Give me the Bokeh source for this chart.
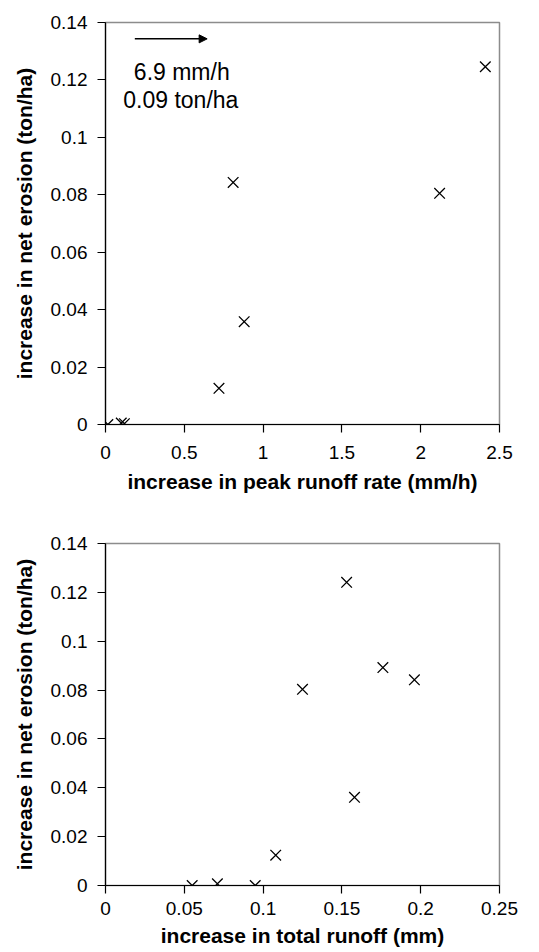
from bokeh.plotting import figure
from bokeh.layouts import column
from bokeh.models import FixedTicker, Arrow, NormalHead, Label, Range1d
from bokeh.embed import file_html
from bokeh.resources import INLINE

# ---- data ----
peak_rate = [0.015, 0.10, 0.12, 0.72, 0.81, 0.88, 2.12, 2.41]
erosion_peak = [0.0, 0.0005, 0.0003, 0.0126, 0.0843, 0.0358, 0.0805, 0.1246]
offchart_rate = 6.9
offchart_erosion = 0.09

total_runoff = [0.055, 0.071, 0.095, 0.108, 0.125, 0.153, 0.158, 0.176, 0.196]
erosion_total = [0.0, 0.0007, 0.0, 0.0124, 0.0803, 0.1241, 0.0361, 0.0892, 0.0842]

x1_ticks = [0, 0.5, 1, 1.5, 2, 2.5]
x1_labels = ["0", "0.5", "1", "1.5", "2", "2.5"]
x2_ticks = [0, 0.05, 0.1, 0.15, 0.2, 0.25]
x2_labels = ["0", "0.05", "0.1", "0.15", "0.2", "0.25"]
y_ticks = [0, 0.02, 0.04, 0.06, 0.08, 0.1, 0.12, 0.14]
y_labels = ["0", "0.02", "0.04", "0.06", "0.08", "0.1", "0.12", "0.14"]

FONT = "Liberation Sans"


def style(p, xt, xl, tick_standoff, label_standoff):
    p.xgrid.visible = False
    p.ygrid.visible = False
    p.outline_line_color = "#8c8c8c"
    p.outline_line_width = 1.5
    p.background_fill_color = "white"
    p.border_fill_color = "white"
    for ax in (p.xaxis[0], p.yaxis[0]):
        ax.axis_line_color = "black"
        ax.axis_line_width = 1.2
        ax.major_tick_line_color = "black"
        ax.major_tick_line_width = 1.2
        ax.major_tick_out = 8
        ax.major_tick_in = 0
        ax.minor_tick_line_color = None
        ax.major_label_text_font = FONT
        ax.major_label_text_font_size = "19px"
        ax.major_label_text_color = "black"
        ax.axis_label_text_font = FONT
        ax.axis_label_text_font_style = "bold"
        ax.axis_label_text_font_size = "21px"
        ax.axis_label_text_color = "black"
    p.xaxis[0].ticker = FixedTicker(ticks=xt)
    p.xaxis[0].major_label_overrides = {t: l for t, l in zip(xt, xl)}
    p.yaxis[0].ticker = FixedTicker(ticks=y_ticks)
    p.yaxis[0].major_label_overrides = {t: l for t, l in zip(y_ticks, y_labels)}
    p.xaxis[0].major_label_standoff = tick_standoff
    p.xaxis[0].axis_label_standoff = label_standoff
    p.yaxis[0].major_label_standoff = 10
    p.yaxis[0].axis_label_standoff = 12


# ---- top chart ----
p1 = figure(width=530, height=498, output_backend="svg", toolbar_location=None,
            x_range=Range1d(0, 2.5), y_range=Range1d(0, 0.14),
            min_border_left=105, min_border_right=31, min_border_top=22, min_border_bottom=74,
            x_axis_label="increase in peak runoff rate (mm/h)",
            y_axis_label="increase in net erosion (ton/ha)")
style(p1, x1_ticks, x1_labels, 13, 8)
p1.scatter(peak_rate + [offchart_rate], erosion_peak + [offchart_erosion],
           marker="x", size=15, line_color="black", line_width=1.3)
p1.add_layout(Arrow(end=NormalHead(size=8, fill_color="black", line_color="black"),
                    x_start=0.186, y_start=0.1343, x_end=0.645, y_end=0.1343,
                    line_color="black", line_width=1.5))
p1.add_layout(Label(x=0.484, y=0.1226, text=f"{offchart_rate} mm/h",
                    text_font=FONT, text_font_size="23px", text_align="center",
                    text_baseline="middle", text_color="black"))
p1.add_layout(Label(x=0.478, y=0.1130, text=f"{offchart_erosion} ton/ha",
                    text_font=FONT, text_font_size="23px", text_align="center",
                    text_baseline="middle", text_color="black"))

# ---- bottom chart ----
p2 = figure(width=530, height=454, output_backend="svg", toolbar_location=None,
            x_range=Range1d(0, 0.25), y_range=Range1d(0, 0.14),
            min_border_left=103, min_border_right=27, min_border_top=45, min_border_bottom=67,
            x_axis_label="increase in total runoff (mm)",
            y_axis_label="increase in net erosion (ton/ha)")
style(p2, x2_ticks, x2_labels, 8, 6)
p2.scatter(total_runoff, erosion_total, marker="x", size=15,
           line_color="black", line_width=1.3)

layout = column(p1, p2, spacing=0)
open("out.html", "w").write(file_html(layout, INLINE))
